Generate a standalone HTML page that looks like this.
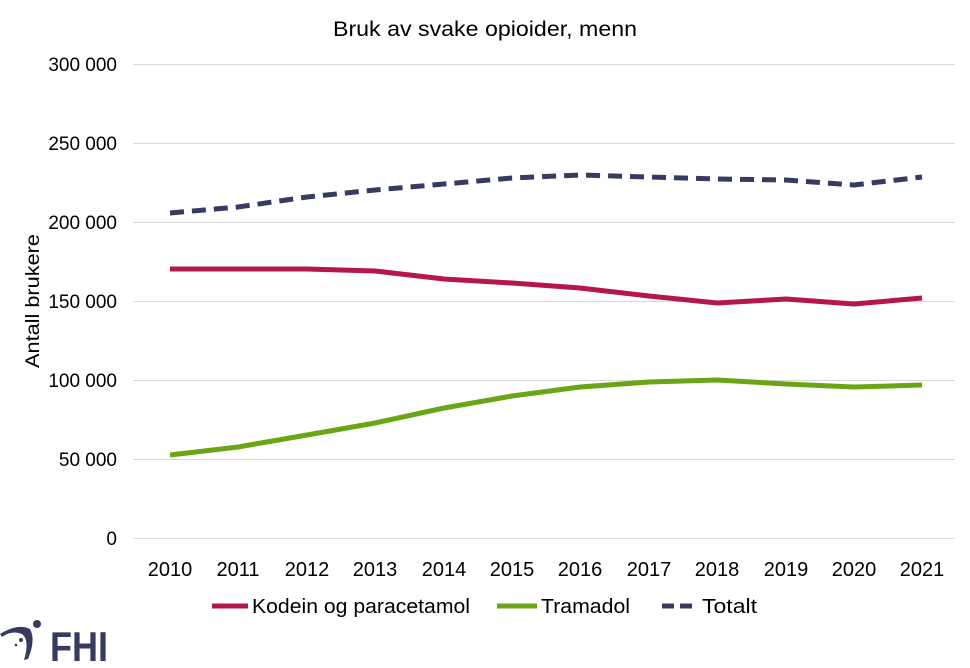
<!DOCTYPE html>
<html><head><meta charset="utf-8"><style>body{margin:0;background:#fff}svg{display:block}text{font-family:"Liberation Sans",Arial,sans-serif}</style></head><body>
<svg width="970" height="668" viewBox="0 0 970 668" xmlns="http://www.w3.org/2000/svg">
<text x="485" y="36" font-size="21" text-anchor="middle" fill="#000" textLength="304" lengthAdjust="spacingAndGlyphs">Bruk av svake opioider, menn</text>
<g stroke="#d9d9d9" stroke-width="1">
<line x1="133" x2="955" y1="64.5" y2="64.5"/><line x1="133" x2="955" y1="143.5" y2="143.5"/><line x1="133" x2="955" y1="222.5" y2="222.5"/><line x1="133" x2="955" y1="301.5" y2="301.5"/><line x1="133" x2="955" y1="380.5" y2="380.5"/><line x1="133" x2="955" y1="459.5" y2="459.5"/><line x1="133" x2="955" y1="538.5" y2="538.5"/>
</g>
<g font-size="19" text-anchor="end" fill="#000">
<text x="117" y="71">300 000</text><text x="117" y="150">250 000</text><text x="117" y="229">200 000</text><text x="117" y="308">150 000</text><text x="117" y="387">100 000</text><text x="117" y="466">50 000</text><text x="117" y="545">0</text>
</g>
<text transform="translate(39,301) rotate(-90)" font-size="19" text-anchor="middle" textLength="134" lengthAdjust="spacingAndGlyphs">Antall brukere</text>
<g font-size="20" text-anchor="middle">
<text x="170" y="576">2010</text><text x="238" y="576">2011</text><text x="307" y="576">2012</text><text x="375" y="576">2013</text><text x="444" y="576">2014</text><text x="512" y="576">2015</text><text x="580" y="576">2016</text><text x="649" y="576">2017</text><text x="717" y="576">2018</text><text x="786" y="576">2019</text><text x="854" y="576">2020</text><text x="922" y="576">2021</text>
</g>
<g fill="none" stroke-width="5" stroke-linejoin="round" stroke-linecap="butt">
<polyline stroke="#b5174a" points="170,269 238,269 307,269 375,271 444,279 512,283 580,288 649,296 717,303 786,299 854,304 922,298"/>
<polyline stroke="#6aa516" points="170,455 238,447 307,435 375,423 444,408 512,396 580,387 649,382 717,380 786,384 854,387 922,385"/>
<polyline stroke="#363b5f" stroke-dasharray="14,8" points="170,213 238,207 307,197 375,190 444,184 512,178 580,175 649,177 717,179 786,180 854,185 922,177"/>
</g>
<g font-size="20">
<line x1="212" x2="248" y1="606" y2="606" stroke="#b5174a" stroke-width="5"/><text x="252" y="613" textLength="218" lengthAdjust="spacingAndGlyphs">Kodein og paracetamol</text>
<line x1="497" x2="537" y1="606" y2="606" stroke="#6aa516" stroke-width="5"/><text x="541" y="613" textLength="89" lengthAdjust="spacingAndGlyphs">Tramadol</text>
<line x1="662" x2="698" y1="606" y2="606" stroke="#363b5f" stroke-width="5" stroke-dasharray="12,6"/><text x="702" y="613" textLength="55" lengthAdjust="spacingAndGlyphs">Totalt</text>
</g>
<g fill="#363b5f">
<path d="M0,634 Q18,623 30,629 Q36,640 28,659 L24,660 Q30,640 22,634 Q12,630 2,637 Z"/>
<circle cx="37" cy="624" r="4"/><circle cx="21" cy="640" r="2"/><circle cx="16" cy="645" r="1.3"/>
<text x="50" y="661" font-size="42" font-weight="bold" fill="#363b5f" textLength="58" lengthAdjust="spacingAndGlyphs">FHI</text>
</g>
</svg>
</body></html>
